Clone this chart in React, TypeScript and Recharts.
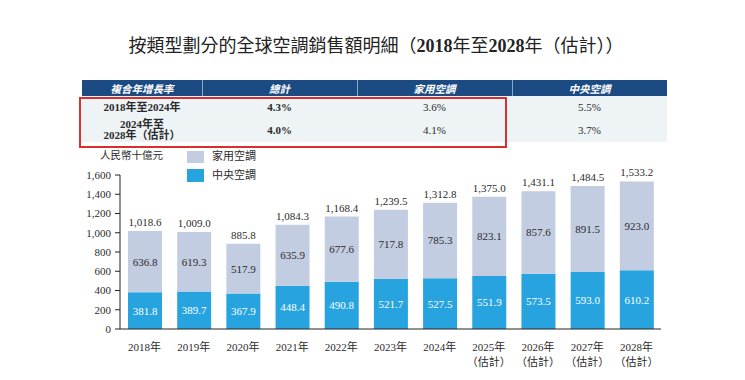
import { BarChart, Bar, XAxis, YAxis, LabelList } from 'recharts';

const years = [
  '2018年', '2019年', '2020年', '2021年', '2022年', '2023年', '2024年',
  '2025年\n（估計）', '2026年\n（估計）', '2027年\n（估計）', '2028年\n（估計）',
];
const central = [381.8, 389.7, 367.9, 448.4, 490.8, 521.7, 527.5, 551.9, 573.5, 593.0, 610.2];
const residential = [636.8, 619.3, 517.9, 635.9, 677.6, 717.8, 785.3, 823.1, 857.6, 891.5, 923.0];
const totals = [1018.6, 1009.0, 885.8, 1084.3, 1168.4, 1239.5, 1312.8, 1375.0, 1431.1, 1484.5, 1533.2];
const yTicks = [0, 200, 400, 600, 800, 1000, 1200, 1400, 1600];

const cagrHeader = ['複合年增長率', '總計', '家用空調', '中央空調'];
const cagrPeriods = ['2018年至2024年', '2024年至\n2028年（估計）'];
const cagrTotal = ['4.3%', '4.0%'];
const cagrResidential = ['3.6%', '4.1%'];
const cagrCentral = ['5.5%', '3.7%'];

const SERIF = '"Liberation Serif", "Noto Sans CJK TC", serif';
const SANS = '"Noto Sans CJK TC", "Noto Sans", sans-serif';
const LIGHT = '#c2cde1';
const BLUE = '#27a4df';
const NAVY = '#1c4b84';
const TEXT = '#2b2b2b';

const data = years.map((y, i) => ({
  year: y,
  central: central[i],
  residential: residential[i],
  total: totals[i],
}));

const colLeft = [82, 202, 357, 512];
const colWidth = [120, 155, 155, 155];

function fmt1(v: number) {
  return v.toLocaleString('en-US', { minimumFractionDigits: 1, maximumFractionDigits: 1 });
}

function YearTick({ x, y, payload }: any) {
  const lines = String(payload.value).split('\n');
  return (
    <text x={x} y={y} textAnchor="middle" fontSize={11} fill={TEXT} fontFamily={SERIF}>
      {lines.map((l, i) => (
        <tspan key={i} x={x} dy={i === 0 ? 14 : 15}>{l}</tspan>
      ))}
    </text>
  );
}

function Cell({ left, top, width, height, children, style }: any) {
  return (
    <div
      style={{
        position: 'absolute',
        left,
        top,
        width,
        height,
        display: 'flex',
        alignItems: 'center',
        justifyContent: 'center',
        textAlign: 'center',
        whiteSpace: 'pre-line',
        lineHeight: '11px',
        ...style,
      }}
    >
      {children}
    </div>
  );
}

export default function App() {
  const rowTop = [96, 118];
  const rowH = [22, 24];
  return (
    <div style={{ position: 'absolute', left: 0, top: 0, width: 745, height: 380, background: '#fff', overflow: 'hidden' }}>
      <div
        style={{
          position: 'absolute',
          left: 0,
          top: 32,
          width: 752,
          textAlign: 'center',
          fontSize: 18,
          lineHeight: '24px',
          color: '#222',
          fontFamily: SERIF,
        }}
      >
        <span style={{ fontFamily: SANS }}>按類型劃分的全球空調銷售額明細（</span>
        <b>2018</b><span style={{ fontFamily: SANS }}>年至</span><b>2028</b>
        <span style={{ fontFamily: SANS }}>年（估計））</span>
      </div>

      {/* CAGR table */}
      <div style={{ position: 'absolute', left: 82, top: 80, width: 585, height: 16, background: NAVY }} />
      <div style={{ position: 'absolute', left: 82, top: 96, width: 585, height: 46, background: '#eef3f6' }} />
      {colLeft.slice(1).map((l) => (
        <div key={l} style={{ position: 'absolute', left: l, top: 80, width: 1, height: 16, background: '#8aa6c8' }} />
      ))}
      {cagrHeader.map((h, i) => (
        <Cell
          key={h}
          left={colLeft[i]}
          top={80}
          width={colWidth[i]}
          height={16}
          style={{ color: '#fff', fontStyle: 'italic', fontWeight: 700, fontSize: 10.5, fontFamily: SANS }}
        >
          {h}
        </Cell>
      ))}
      {cagrPeriods.map((p, r) => (
        <div key={p}>
          <Cell left={colLeft[0]} top={rowTop[r]} width={colWidth[0]} height={rowH[r]}
            style={{ fontWeight: 700, fontSize: 11, color: TEXT, fontFamily: SERIF }}>
            {p}
          </Cell>
          <Cell left={colLeft[1]} top={rowTop[r]} width={colWidth[1]} height={rowH[r]}
            style={{ fontWeight: 700, fontSize: 11, color: TEXT, fontFamily: SERIF }}>
            {cagrTotal[r]}
          </Cell>
          <Cell left={colLeft[2]} top={rowTop[r]} width={colWidth[2]} height={rowH[r]}
            style={{ fontSize: 11, color: TEXT, fontFamily: SERIF }}>
            {cagrResidential[r]}
          </Cell>
          <Cell left={colLeft[3]} top={rowTop[r]} width={colWidth[3]} height={rowH[r]}
            style={{ fontSize: 11, color: TEXT, fontFamily: SERIF }}>
            {cagrCentral[r]}
          </Cell>
        </div>
      ))}
      <div
        style={{
          position: 'absolute',
          left: 79,
          top: 97,
          width: 428,
          height: 51,
          border: '2px solid #d7302d',
          boxSizing: 'border-box',
        }}
      />

      {/* unit + legend */}
      <div style={{ position: 'absolute', left: 100, top: 149, fontSize: 10.5, lineHeight: '14px', color: TEXT, fontFamily: SERIF }}>
        人民幣十億元
      </div>
      <div style={{ position: 'absolute', left: 187, top: 151, width: 17, height: 12, background: LIGHT }} />
      <div style={{ position: 'absolute', left: 187, top: 169, width: 17, height: 13, background: BLUE }} />
      <div style={{ position: 'absolute', left: 212, top: 149, fontSize: 11, lineHeight: '14px', color: TEXT, fontFamily: SERIF }}>
        家用空調
      </div>
      <div style={{ position: 'absolute', left: 212, top: 168, fontSize: 11, lineHeight: '14px', color: TEXT, fontFamily: SERIF }}>
        中央空調
      </div>

      <div style={{ position: 'absolute', left: 0, top: 0 }}>
        <BarChart
          width={745}
          height={380}
          data={data}
          margin={{ top: 175, right: 84, bottom: 11, left: 80 }}
          barSize={34}
        >
          <XAxis
            dataKey="year"
            interval={0}
            tickLine={false}
            axisLine={{ stroke: '#222' }}
            height={40}
            tick={<YearTick />}
          />
          <YAxis
            width={40}
            domain={[0, 1600]}
            ticks={yTicks}
            interval={0}
            tickSize={5}
            tickMargin={4}
            axisLine={{ stroke: '#222' }}
            tickLine={{ stroke: '#222' }}
            tickFormatter={(v: number) => v.toLocaleString('en-US')}
            tick={{ fontSize: 11, fill: TEXT, fontFamily: SERIF }}
          />
          <Bar dataKey="central" stackId="a" fill={BLUE} isAnimationActive={false}>
            <LabelList
              dataKey="central"
              position="center"
              formatter={(v: any) => fmt1(Number(v))}
              style={{ fontSize: 11, fill: '#fff', fontFamily: SERIF }}
            />
          </Bar>
          <Bar dataKey="residential" stackId="a" fill={LIGHT} isAnimationActive={false}>
            <LabelList
              dataKey="residential"
              position="center"
              formatter={(v: any) => fmt1(Number(v))}
              style={{ fontSize: 11, fill: TEXT, fontFamily: SERIF }}
            />
            <LabelList
              dataKey="total"
              position="top"
              offset={5}
              formatter={(v: any) => fmt1(Number(v))}
              style={{ fontSize: 11, fill: TEXT, fontFamily: SERIF }}
            />
          </Bar>
        </BarChart>
      </div>
    </div>
  );
}
